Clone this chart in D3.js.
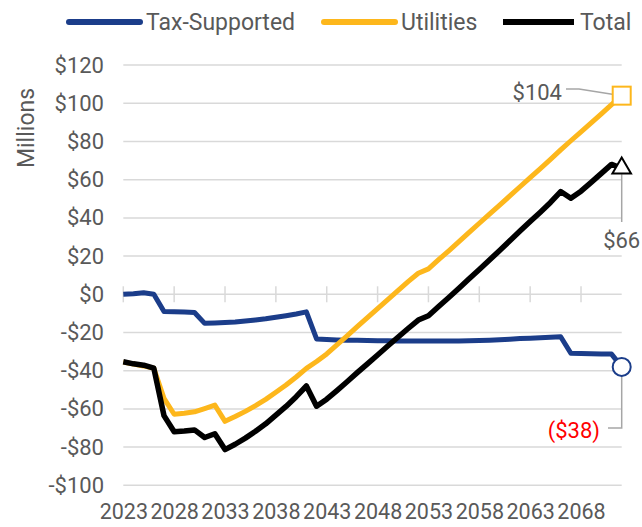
<!DOCTYPE html>
<html>
<head>
<meta charset="utf-8">
<script src="https://cdn.jsdelivr.net/npm/d3@7"></script>
<style>
  body { margin: 0; background: #fff; }
  svg { display: block; font-family: Roboto, "Noto Sans", sans-serif; }
</style>
</head>
<body>
<script>
const w = 642;
const h = 527;

// years on the category axis
const years = d3.range(2023, 2073);
const tickYears = [2023, 2028, 2033, 2038, 2043, 2048, 2053, 2058, 2063, 2068];
const yTicks = [120, 100, 80, 60, 40, 20, 0, -20, -40, -60, -80, -100];

// series, $ millions
const taxSupported = [0, 0.3, 0.8, 0, -9, -9.2, -9.3, -9.5, -15.2, -15,
  -14.8, -14.5, -14, -13.4, -12.8, -12, -11.2, -10.3, -9.2, -23.4,
  -23.7, -23.9, -24, -24.1, -24.2, -24.3, -24.3, -24.4, -24.5, -24.5,
  -24.5, -24.5, -24.5, -24.4, -24.3, -24.2, -24, -23.8, -23.5, -23.2,
  -23, -22.8, -22.5, -22.2, -30.9, -31, -31.1, -31.2, -31.3, -38];
const utilities = [-35.5, -36.5, -37.5, -38.7, -54.5, -62.8, -62.3, -61.5, -59.8, -58,
  -66.5, -64, -61.3, -58.3, -55, -51.3, -47.5, -43.3, -38.8, -35.2,
  -31.2, -26.5, -21.8, -16.9, -12.2, -7.5, -2.8, 1.9, 6.6, 11,
  13.3, 18.1, 22.8, 27.6, 32.4, 37.2, 42, 46.7, 51.5, 56.3,
  61.1, 65.8, 70.6, 75.6, 80.4, 85, 89.7, 94.5, 99.3, 104];
const total = [-35.3, -36.4, -37.1, -38.7, -63.5, -72, -71.6, -71, -75, -73,
  -81.3, -78.5, -75.3, -71.7, -67.8, -63.3, -58.7, -53.6, -48, -58.6,
  -54.9, -50.4, -45.8, -41, -36.4, -31.8, -27.1, -22.5, -17.9, -13.5,
  -11.2, -6.4, -1.7, 3.2, 8.1, 13, 18, 22.9, 28, 33.1,
  38.1, 43, 48.1, 53.8, 50.3, 54, 58.6, 63.3, 68, 66];

const names = ["Tax-Supported", "Utilities", "Total"];
const colors = ["#1b3d8a", "#fdb71c", "#000000"];
const endLabels = ["($38)", "$104", "$66"];

const x = d3.scalePoint().domain(years).range([123.3, 621.7]);
const y = d3.scaleLinear().domain([-100, 120]).range([485.3, 65.1]);

const svg = d3.select("body")
  .append("svg")
  .attr("width", w)
  .attr("height", h);

// gridlines
svg.append("g")
  .selectAll("line")
  .data(yTicks)
  .enter()
  .append("line")
  .attr("x1", 123.3)
  .attr("x2", 621.7)
  .attr("y1", d => y(d))
  .attr("y2", d => y(d))
  .attr("stroke", "#d9d9d9")
  .attr("stroke-width", 1.5);

// small tick marks on the zero line
svg.append("g")
  .selectAll("line")
  .data(tickYears)
  .enter()
  .append("line")
  .attr("x1", d => x(d))
  .attr("x2", d => x(d))
  .attr("y1", y(0) - 8)
  .attr("y2", y(0) + 8)
  .attr("stroke", "#d9d9d9")
  .attr("stroke-width", 1.5);

// y axis labels
const yAxis = svg.append("g")
  .attr("transform", "translate(104,0)")
  .call(d3.axisLeft(y).tickValues(yTicks).tickSize(0).tickPadding(0)
    .tickFormat(d => (d < 0 ? "-$" : "$") + Math.abs(d)));
yAxis.select(".domain").remove();
yAxis.selectAll("text")
  .attr("fill", "#595959")
  .attr("font-size", "22px")
  .attr("font-family", "Roboto, sans-serif");

// x axis labels
const xAxis = svg.append("g")
  .attr("transform", "translate(0,504)")
  .call(d3.axisBottom(x).tickValues(tickYears).tickSize(0).tickPadding(0));
xAxis.select(".domain").remove();
xAxis.selectAll("text")
  .attr("fill", "#595959")
  .attr("font-size", "21.5px")
  .attr("font-family", "Roboto, sans-serif");

// axis title
svg.append("text")
  .attr("transform", "translate(34,128) rotate(-90)")
  .attr("text-anchor", "middle")
  .attr("fill", "#595959")
  .attr("font-size", "23px")
  .text("Millions");

// lines
const seriesData = [taxSupported, utilities, total];
const line = d3.line()
  .x((d, i) => x(years[i]))
  .y(d => y(d));

svg.append("g")
  .selectAll("path")
  .data(seriesData)
  .enter()
  .append("path")
  .attr("d", d => line(d))
  .attr("fill", "none")
  .attr("stroke", (d, i) => colors[i])
  .attr("stroke-width", (d, i) => i == 2 ? 5.5 : 5)
  .attr("stroke-linejoin", "round");

// end markers
const last = years.length - 1;
const lx = x(years[last]);

// leader lines for end labels
const leader = svg.append("g")
  .attr("fill", "none")
  .attr("stroke", "#a6a6a6")
  .attr("stroke-width", 1.5);
leader.append("polyline")
  .attr("points", [[566, 89], [579, 89], [lx, y(utilities[last])]].join(" "));
leader.append("polyline")
  .attr("points", [[lx, y(total[last]) + 6], [lx, 222]].join(" "));
leader.append("polyline")
  .attr("points", [[lx, y(taxSupported[last]) + 9], [lx, 428], [608, 428]].join(" "));

svg.append("circle")
  .attr("cx", lx)
  .attr("cy", y(taxSupported[last]))
  .attr("r", 9)
  .attr("fill", "#fff")
  .attr("stroke", colors[0])
  .attr("stroke-width", 2);

svg.append("rect")
  .attr("x", lx - 9)
  .attr("y", y(utilities[last]) - 9)
  .attr("width", 18)
  .attr("height", 18)
  .attr("fill", "#fff")
  .attr("stroke", colors[1])
  .attr("stroke-width", 2);

svg.append("path")
  .attr("d", d3.symbol().type(d3.symbolTriangle).size(150)())
  .attr("transform", "translate(" + lx + "," + y(total[last]) + ")")
  .attr("fill", "#fff")
  .attr("stroke", colors[2])
  .attr("stroke-width", 2);

// end value labels
svg.append("text")
  .attr("x", 562).attr("y", 100)
  .attr("text-anchor", "end")
  .attr("fill", "#595959")
  .attr("font-size", "22px")
  .text(endLabels[1]);
svg.append("text")
  .attr("x", lx).attr("y", 248)
  .attr("text-anchor", "middle")
  .attr("fill", "#595959")
  .attr("font-size", "22px")
  .text(endLabels[2]);
svg.append("text")
  .attr("x", 600).attr("y", 438)
  .attr("text-anchor", "end")
  .attr("fill", "#ff0000")
  .attr("font-size", "22px")
  .text(endLabels[0]);

// legend
const legend = svg.append("g")
  .selectAll("g")
  .data(names)
  .enter()
  .append("g")
  .attr("transform", (d, i) => "translate(" + [69, 324, 503][i] + ",22)");
legend.append("line")
  .attr("x1", 0).attr("x2", 71)
  .attr("stroke", (d, i) => colors[i])
  .attr("stroke-width", 6)
  .attr("stroke-linecap", (d, i) => i == 2 ? "butt" : "round");
legend.append("text")
  .attr("x", 77).attr("y", 8)
  .attr("fill", "#595959")
  .attr("font-size", "23px")
  .text(d => d);
</script>
</body>
</html>
